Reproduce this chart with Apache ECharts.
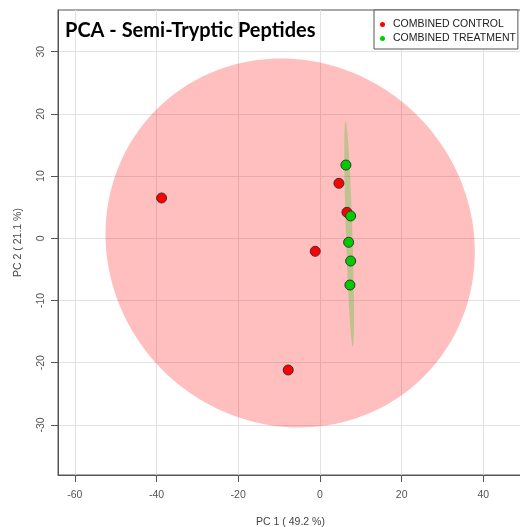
<!DOCTYPE html>
<html>
<head>
<meta charset="utf-8">
<script src="https://cdn.jsdelivr.net/npm/echarts@6/dist/echarts.min.js"></script>
<style>
  html, body { margin: 0; padding: 0; background: #fff; }
  #chart { width: 520px; height: 527px; }
</style>
</head>
<body>
<div id="chart"></div>
<script>
// PCA score plot: two sample groups with 95% confidence ellipses
const chartTitle = 'PCA - Semi-Tryptic Peptides';
const groupNames = ['COMBINED CONTROL', 'COMBINED TREATMENT'];
const axisNames = ['PC 1 ( 49.2 %)', 'PC 2 ( 21.1 %)'];

const controlPC1 = [4.65, 6.61, -1.15, -38.75, -7.76];
const controlPC2 = [8.84, 4.18, -2.09, 6.48, -21.17];
const treatmentPC1 = [6.36, 7.52, 7.03, 7.52, 7.34];
const treatmentPC2 = [11.78, 3.59, -0.64, -3.65, -7.51];

const xTicks = [-60, -40, -20, 0, 20, 40];
const yTicks = [-30, -20, -10, 0, 10, 20, 30];
const xRange = [-64.1, 49.7];
const yRange = [-38.05, 36.7];

const ellipseLevel = 0.95;

function pairs(xs, ys) {
  return xs.map((x, i) => [x, ys[i]]);
}

// Confidence ellipse from the sample covariance (same construction as R's ellipse package)
function confidenceEllipse(xs, ys, level, n) {
  const m = xs.length;
  const mx = xs.reduce((a, b) => a + b, 0) / m;
  const my = ys.reduce((a, b) => a + b, 0) / m;
  let sxx = 0, syy = 0, sxy = 0;
  for (let i = 0; i < m; i++) {
    const dx = xs[i] - mx, dy = ys[i] - my;
    sxx += dx * dx; syy += dy * dy; sxy += dx * dy;
  }
  sxx /= (m - 1); syy /= (m - 1); sxy /= (m - 1);
  const sx = Math.sqrt(sxx), sy = Math.sqrt(syy);
  const r = sxy / (sx * sy);
  const d = Math.acos(r);
  const t = Math.sqrt(-2 * Math.log(1 - level));
  const pts = [];
  for (let k = 0; k < n; k++) {
    const a = (2 * Math.PI * k) / n;
    pts.push([mx + t * sx * Math.cos(a + d / 2), my + t * sy * Math.cos(a - d / 2)]);
  }
  return { center: [mx, my], points: pts };
}

const controlEllipse = confidenceEllipse(controlPC1, controlPC2, ellipseLevel, 200);
const treatmentEllipse = confidenceEllipse(treatmentPC1, treatmentPC2, ellipseLevel, 200);

function ellipseSeries(ell, fill) {
  return {
    type: 'custom',
    silent: true,
    clip: true,
    data: [ell.center],
    renderItem: function (params, api) {
      const poly = ell.points.map(p => api.coord(p));
      return {
        type: 'polygon',
        shape: { points: poly },
        style: { fill: fill, stroke: 'none' }
      };
    },
    z: 1
  };
}

const chart = echarts.init(document.getElementById('chart'), null, { renderer: 'canvas' });

const axisFont = 'Liberation Sans, Arial, sans-serif';
const axisColor = '#555';

chart.setOption({
  animation: false,
  backgroundColor: '#fff',
  title: {
    text: chartTitle,
    left: 65,
    top: 21,
    padding: 0,
    textStyle: {
      fontFamily: 'Lato, sans-serif',
      fontWeight: 'bold',
      fontSize: 20,
      color: '#000'
    }
  },
  legend: {
    data: groupNames,
    orient: 'vertical',
    left: 374,
    top: 10,
    padding: [9, 2, 5, 6],
    itemGap: 3,
    itemWidth: 11,
    itemHeight: 5,
    icon: 'circle',
    backgroundColor: '#fff',
    borderColor: '#555',
    borderWidth: 1,
    borderRadius: 0,
    itemStyle: { borderWidth: 0 },
    textStyle: {
      fontFamily: axisFont,
      fontSize: 10.5,
      lineHeight: 10,
      color: '#222',
      padding: 0
    },
    z: 10
  },
  grid: {
    left: 58,
    top: 10,
    width: 465,
    height: 465,
    outerBoundsMode: 'none',
    containLabel: false,
    show: true,
    borderColor: axisColor,
    borderWidth: 1,
    backgroundColor: 'transparent'
  },
  xAxis: {
    type: 'value',
    min: xRange[0],
    max: xRange[1],
    name: axisNames[0],
    nameLocation: 'middle',
    nameGap: 42,
    nameTextStyle: { fontFamily: axisFont, fontSize: 10.5, color: '#444' },
    axisLine: { show: true, onZero: false, lineStyle: { color: axisColor, width: 1 } },
    axisTick: { show: true, length: 7, customValues: xTicks, lineStyle: { color: axisColor } },
    axisLabel: {
      customValues: xTicks,
      margin: 15,
      fontFamily: axisFont,
      fontSize: 10.5,
      color: '#555'
    },
    splitLine: { show: true, lineStyle: { color: '#e2e2e2', width: 1 } }
  },
  yAxis: {
    type: 'value',
    min: yRange[0],
    max: yRange[1],
    name: axisNames[1],
    nameLocation: 'middle',
    nameGap: 34,
    nameRotate: 90,
    nameTextStyle: { fontFamily: axisFont, fontSize: 10.5, color: '#444' },
    axisLine: { show: true, onZero: false, lineStyle: { color: axisColor, width: 1 } },
    axisTick: { show: true, length: 7, customValues: yTicks, lineStyle: { color: axisColor } },
    axisLabel: {
      customValues: yTicks,
      rotate: 90,
      margin: 11,
      fontFamily: axisFont,
      fontSize: 10.5,
      color: '#555'
    },
    splitLine: { show: true, lineStyle: { color: '#e2e2e2', width: 1 } }
  },
  series: [
    ellipseSeries(controlEllipse, 'rgba(255,0,0,0.25)'),
    ellipseSeries(treatmentEllipse, 'rgba(0,205,0,0.25)'),
    {
      name: groupNames[0],
      type: 'scatter',
      data: pairs(controlPC1, controlPC2),
      symbol: 'circle',
      symbolSize: 10,
      itemStyle: { color: '#ff0000', borderColor: '#333', borderWidth: 1, opacity: 1 },
      z: 3
    },
    {
      name: groupNames[1],
      type: 'scatter',
      data: pairs(treatmentPC1, treatmentPC2),
      symbol: 'circle',
      symbolSize: 10,
      itemStyle: { color: '#00cd00', borderColor: '#333', borderWidth: 1, opacity: 1 },
      z: 4
    }
  ]
});
</script>
</body>
</html>
